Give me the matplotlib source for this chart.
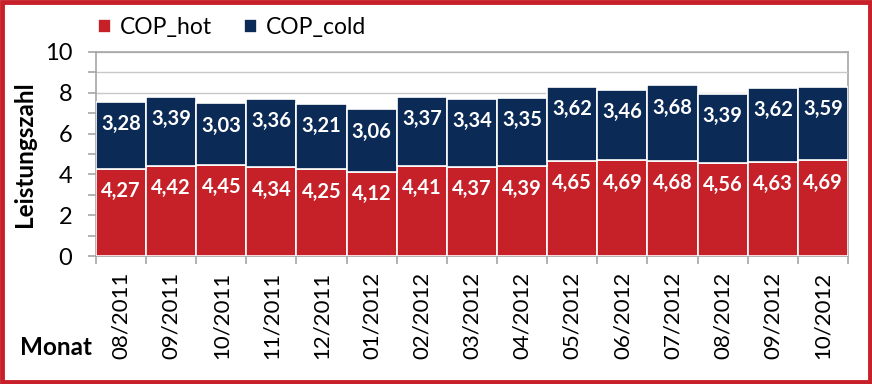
import matplotlib
matplotlib.use('Agg')
import matplotlib.pyplot as plt
from matplotlib.patches import Rectangle
import numpy as np

months = ['08/2011', '09/2011', '10/2011', '11/2011', '12/2011', '01/2012',
          '02/2012', '03/2012', '04/2012', '05/2012', '06/2012', '07/2012',
          '08/2012', '09/2012', '10/2012']
cop_hot = [4.27, 4.42, 4.45, 4.34, 4.25, 4.12, 4.41, 4.37, 4.39,
           4.65, 4.69, 4.68, 4.56, 4.63, 4.69]
cop_cold = [3.28, 3.39, 3.03, 3.36, 3.21, 3.06, 3.37, 3.34, 3.35,
            3.62, 3.46, 3.68, 3.39, 3.62, 3.59]

red = '#c62128'
navy = '#0b2a55'
gray = '#a6a6a6'

plt.rcParams['font.family'] = ['Lato', 'DejaVu Sans']

fig = plt.figure(figsize=(8.72, 3.84), dpi=100)
ax = fig.add_axes([0.110, 0.333, 0.8625, 0.532])

x = np.arange(len(months))
hot = np.array(cop_hot)
cold = np.array(cop_cold)

ax.bar(x, hot, width=1.0, color=red, edgecolor='white', linewidth=1.2,
       label='COP_hot', zorder=3)
ax.bar(x, cold, width=1.0, bottom=hot, color=navy, edgecolor='white',
       linewidth=1.2, label='COP_cold', zorder=3)

def fmt(v):
    return f'{v:.2f}'.replace('.', ',')

for xi, h, c in zip(x, hot, cold):
    ax.annotate(fmt(h), (xi, h), xytext=(0, -16), textcoords='offset points',
                ha='center', va='center', color='white', fontsize=14.5,
                fontweight='bold', zorder=4)
    ax.annotate(fmt(c), (xi, h + c), xytext=(0, -16), textcoords='offset points',
                ha='center', va='center', color='white', fontsize=14.5,
                fontweight='bold', zorder=4)

ax.set_xlim(-0.5, len(months) - 0.5)
ax.set_ylim(0, 10)
ax.set_yticks([0, 2, 4, 6, 8, 10])
ax.set_yticks([1, 3, 5, 7, 9], minor=True)
ax.yaxis.grid(True, which='both', color='#c8c8c8', linewidth=1.0, zorder=0)
ax.set_axisbelow(True)

ax.set_xticks(x)
ax.set_xticklabels(months, rotation=90, fontsize=16)
ax.set_xticks(np.arange(len(months) + 1) - 0.5, minor=True)
ax.tick_params(axis='x', which='major', length=0, pad=11)
ax.tick_params(axis='x', which='minor', length=6, color=gray, width=1.2)
ax.tick_params(axis='y', which='both', length=6, color=gray, width=1.2,
               labelsize=17, pad=11)

for side in ['left', 'bottom', 'top', 'right']:
    ax.spines[side].set_color(gray)
    ax.spines[side].set_linewidth(1.2)
ax.spines['right'].set_zorder(0.5)

ax.set_ylabel('Leistungszahl', fontsize=17.5, fontweight='bold', labelpad=6)

fig.text(0.1055, 0.096, 'Monat', ha='right', va='center', fontsize=17.5,
         fontweight='bold')

ax.legend(loc='lower left', bbox_to_anchor=(-0.012, 1.01), ncol=2, frameon=False,
          fontsize=16.5, handlelength=0.55, handleheight=0.55, handletextpad=0.4,
          columnspacing=1.4, borderaxespad=0.1)

fig.patches.append(Rectangle((0.002, 0.004), 0.996, 0.992, transform=fig.transFigure,
                             fill=False, edgecolor='#c8202a', linewidth=3.5))

fig.savefig('out.png', dpi=100)
